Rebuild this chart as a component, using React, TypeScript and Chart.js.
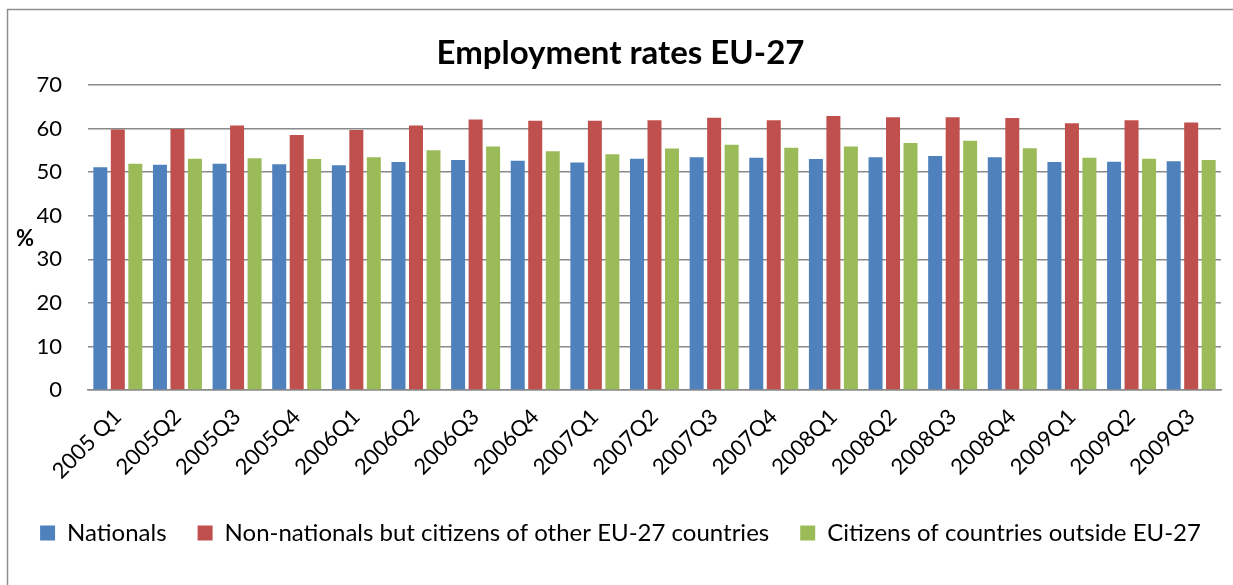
import React, { useEffect, useRef } from "react";
import { Chart, registerables } from "chart.js";

Chart.register(...registerables);

const categories = [
  "2005 Q1", "2005Q2", "2005Q3", "2005Q4",
  "2006Q1", "2006Q2", "2006Q3", "2006Q4",
  "2007Q1", "2007Q2", "2007Q3", "2007Q4",
  "2008Q1", "2008Q2", "2008Q3", "2008Q4",
  "2009Q1", "2009Q2", "2009Q3",
];

const nationals = [
  51.1, 51.7, 51.9, 51.8,
  51.6, 52.3, 52.8, 52.6,
  52.2, 53.1, 53.4, 53.3,
  53.0, 53.4, 53.7, 53.4,
  52.3, 52.4, 52.5,
];

const otherEU = [
  59.8, 59.9, 60.7, 58.5,
  59.7, 60.7, 62.1, 61.8,
  61.8, 61.9, 62.5, 61.9,
  62.9, 62.6, 62.6, 62.4,
  61.2, 61.9, 61.4,
];

const outsideEU = [
  51.9, 53.1, 53.2, 53.0,
  53.4, 55.0, 55.9, 54.8,
  54.1, 55.4, 56.3, 55.6,
  55.9, 56.7, 57.2, 55.5,
  53.3, 53.1, 52.8,
];

const seriesNames = [
  "Nationals",
  "Non-nationals but citizens of other EU-27 countries",
  "Citizens of countries outside EU-27",
];

const titleText = "Employment rates EU-27";
const yAxisLabel = "%";

const FONT = "Lato, 'Open Sans', sans-serif";

const decorPlugin = {
  id: "decor",
  beforeDraw(chart: any) {
    const ctx = chart.ctx;
    ctx.save();
    ctx.strokeStyle = "#8e8e8e";
    ctx.lineWidth = 1.5;
    ctx.strokeRect(7.5, 9.5, 1240, 600);
    ctx.restore();
  },
  afterDraw(chart: any) {
    const ctx = chart.ctx;
    ctx.save();
    ctx.fillStyle = "#000";
    ctx.font = `bold 22px ${FONT}`;
    ctx.textAlign = "center";
    ctx.textBaseline = "middle";
    ctx.fillText(yAxisLabel, 25, 239);
    ctx.restore();
  },
};

export default function App() {
  const ref = useRef<HTMLCanvasElement | null>(null);

  useEffect(() => {
    if (!ref.current) return;
    const chart = new Chart(ref.current, {
      type: "bar",
      data: {
        labels: categories,
        datasets: [
          { label: seriesNames[0], data: nationals, backgroundColor: "#4F81BD" },
          { label: seriesNames[1], data: otherEU, backgroundColor: "#C0504D" },
          { label: seriesNames[2], data: outsideEU, backgroundColor: "#9BBB59" },
        ],
      },
      options: {
        responsive: false,
        animation: false,
        layout: { padding: { left: 8, right: 0, top: 0, bottom: 30 } },
        datasets: {
          bar: { barPercentage: 0.8, categoryPercentage: 0.88 },
        },
        plugins: {
          title: {
            display: true,
            text: titleText,
            color: "#000",
            font: { family: FONT, size: 33, weight: "bold", lineHeight: 1.2 },
            padding: { top: 34, bottom: 11.4 },
          },
          legend: {
            position: "bottom",
            labels: {
              boxWidth: 15,
              boxHeight: 15,
              padding: 31,
              color: "#000",
              font: { family: FONT, size: 24 },
            },
          },
          tooltip: { enabled: false },
        },
        scales: {
          x: {
            grid: { display: false, drawTicks: false },
            border: { display: true, color: "#8a8a8a", width: 1.5 },
            ticks: {
              minRotation: 45,
              maxRotation: 45,
              autoSkip: false,
              padding: 14,
              color: "#000",
              font: { family: FONT, size: 22 },
            },
            afterFit(scale: any) {
              scale.height = 100;
              scale.paddingRight = 12;
              scale.paddingLeft = 0;
            },
          },
          y: {
            min: 0,
            max: 70,
            ticks: {
              stepSize: 10,
              padding: 26,
              color: "#000",
              font: { family: FONT, size: 22 },
            },
            grid: { color: "#8a8a8a", lineWidth: 1.5, drawTicks: false },
            border: { display: false },
            afterFit(scale: any) {
              scale.width = 80;
            },
          },
        },
      },
      plugins: [decorPlugin],
    });
    return () => chart.destroy();
  }, []);

  return (
    <div style={{ position: "fixed", left: 0, top: 0, width: 1233, height: 585, background: "#fff" }}>
      <canvas ref={ref} width={1233} height={585} />
    </div>
  );
}
